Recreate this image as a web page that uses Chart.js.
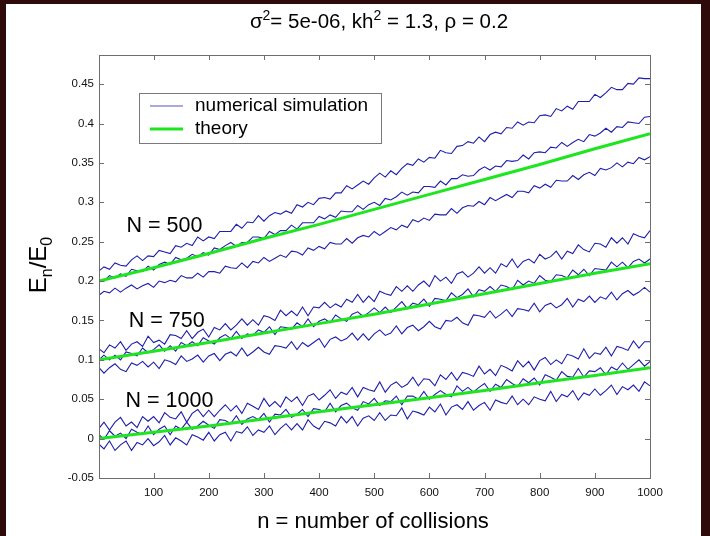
<!DOCTYPE html>
<html>
<head>
<meta charset="utf-8">
<script src="https://cdn.jsdelivr.net/npm/chart.js@4.4.1/dist/chart.umd.min.js"></script>
<style>
  html, body { margin: 0; padding: 0; background: #2e0a0a; }
  canvas { display: block; }
</style>
</head>
<body>
<canvas id="c" width="710" height="536"></canvas>
<script>
// ---------- data ----------
const collisions = [
  1,10,20,30,40,50,60,70,80,90,
  100,110,120,130,140,150,160,170,180,190,
  200,210,220,230,240,250,260,270,280,290,
  300,310,320,330,340,350,360,370,380,390,
  400,410,420,430,440,450,460,470,480,490,
  500,510,520,530,540,550,560,570,580,590,
  600,610,620,630,640,650,660,670,680,690,
  700,710,720,730,740,750,760,770,780,790,
  800,810,820,830,840,850,860,870,880,890,
  900,910,920,930,940,950,960,970,980,990,
  1000
];
const theoryCollisions = [1,100,200,300,400,500,600,700,800,900,1000];

// N = 500
const sim500Upper = [
  .213,.218,.215,.223,.220,.219,.227,.232,.226,.232,
  .231,.239,.237,.235,.245,.243,.248,.245,.256,.251,
  .256,.254,.263,.263,.263,.272,.267,.275,.274,.283,
  .276,.283,.287,.285,.289,.286,.297,.294,.300,.297,
  .305,.306,.304,.312,.312,.321,.317,.322,.327,.323,
  .331,.337,.332,.340,.335,.343,.349,.347,.355,.351,
  .357,.356,.366,.363,.362,.371,.372,.377,.375,.383,
  .377,.386,.389,.387,.395,.394,.402,.398,.402,.401,
  .410,.411,.409,.419,.416,.422,.418,.428,.428,.428,
  .437,.433,.439,.446,.443,.443,.451,.450,.458,.457,
  .457
];
const sim500Mid = [
  .201,.200,.207,.204,.209,.206,.215,.213,.212,.219,
  .214,.221,.224,.221,.230,.227,.229,.234,.231,.236,
  .233,.242,.240,.245,.249,.244,.249,.249,.256,.256,
  .254,.263,.259,.264,.264,.271,.266,.274,.274,.274,
  .282,.279,.284,.281,.289,.288,.288,.296,.291,.297,
  .300,.296,.305,.303,.307,.313,.309,.313,.312,.320,
  .320,.319,.327,.322,.330,.330,.335,.333,.334,.341,
  .345,.341,.346,.345,.353,.352,.353,.360,.355,.363,
  .364,.363,.370,.369,.376,.371,.376,.380,.377,.386,
  .384,.388,.394,.389,.396,.395,.402,.401,.400,.408,
  .409
];
const sim500Lower = [
  .182,.187,.185,.191,.186,.191,.195,.190,.194,.197,
  .192,.200,.198,.201,.199,.207,.204,.204,.210,.205,
  .212,.212,.210,.219,.217,.216,.223,.217,.225,.223,
  .230,.225,.229,.233,.230,.238,.237,.233,.242,.239,
  .244,.241,.249,.247,.247,.254,.248,.255,.258,.256,
  .263,.258,.263,.268,.265,.271,.268,.278,.275,.280,
  .277,.285,.284,.284,.292,.286,.293,.296,.295,.301,
  .297,.306,.302,.306,.310,.306,.314,.314,.312,.321,
  .318,.323,.319,.328,.327,.327,.334,.329,.335,.338,
  .334,.343,.341,.344,.350,.345,.351,.349,.357,.354,
  .358
];
const theory500 = [.200,.217,.235,.254,.272,.291,.310,.329,.348,.368,.387];

// N = 750
const sim750Upper = [
  .114,.109,.119,.115,.123,.112,.120,.123,.117,.130,
  .122,.125,.120,.132,.131,.127,.137,.127,.135,.139,
  .129,.141,.138,.146,.138,.144,.152,.144,.151,.144,
  .156,.154,.150,.163,.156,.162,.156,.167,.156,.167,
  .166,.173,.166,.171,.167,.177,.173,.183,.173,.181,
  .174,.187,.184,.182,.193,.187,.194,.187,.195,.200,
  .193,.207,.200,.205,.197,.209,.212,.205,.210,.218,
  .210,.217,.210,.222,.218,.228,.217,.225,.228,.223,
  .234,.228,.231,.238,.228,.238,.235,.246,.240,.237,
  .248,.247,.243,.255,.248,.255,.247,.260,.257,.255,
  .264
];
const sim750Mid = [
  .100,.106,.100,.106,.100,.110,.108,.105,.115,.109,
  .113,.119,.111,.118,.111,.122,.118,.123,.118,.128,
  .124,.120,.128,.132,.127,.136,.127,.133,.131,.138,
  .135,.142,.132,.142,.141,.139,.147,.142,.152,.142,
  .149,.152,.147,.157,.152,.149,.158,.161,.155,.160,
  .166,.160,.167,.160,.167,.174,.165,.172,.170,.177,
  .168,.178,.177,.175,.185,.179,.183,.190,.180,.189,
  .187,.193,.187,.195,.193,.189,.201,.195,.200,.197,
  .207,.201,.199,.208,.207,.204,.214,.208,.215,.207,
  .216,.215,.214,.224,.218,.224,.217,.225,.228,.223,
  .228
];
const sim750Lower = [
  .090,.083,.090,.095,.088,.085,.096,.093,.098,.091,
  .097,.089,.100,.098,.094,.105,.098,.101,.106,.097,
  .105,.108,.099,.107,.110,.105,.115,.105,.110,.116,
  .110,.107,.118,.117,.115,.123,.113,.122,.117,.122,
  .127,.116,.126,.129,.124,.127,.134,.125,.133,.125,
  .133,.138,.131,.134,.143,.133,.141,.144,.137,.142,
  .149,.142,.139,.150,.149,.154,.147,.144,.157,.156,
  .154,.162,.153,.158,.164,.155,.165,.164,.162,.172,
  .161,.169,.172,.166,.170,.178,.167,.177,.174,.181,
  .173,.180,.177,.186,.176,.184,.188,.182,.186,.192,
  .186
];
const theory750 = [.100,.111,.122,.134,.146,.158,.171,.184,.197,.210,.222];

// N = 1000
const sim1000Upper = [
  .013,.021,.011,.021,.027,.016,.021,.014,.028,.022,
  .028,.020,.033,.027,.025,.034,.021,.032,.037,.028,
  .036,.028,.036,.043,.035,.042,.032,.045,.041,.037,
  .051,.041,.047,.040,.053,.047,.053,.042,.054,.057,
  .049,.055,.062,.051,.059,.056,.065,.053,.065,.062,
  .060,.072,.059,.068,.072,.065,.069,.078,.067,.076,
  .075,.067,.081,.075,.084,.074,.084,.082,.079,.092,
  .082,.088,.080,.093,.090,.086,.099,.091,.098,.087,
  .099,.103,.094,.100,.095,.107,.105,.101,.114,.102,
  .109,.107,.116,.105,.117,.115,.112,.124,.115,.123,
  .123
];
const sim1000Mid = [
  .005,-.001,.010,.003,.007,.000,.012,.008,.005,.016,
  .005,.012,.016,.005,.016,.012,.021,.012,.016,.022,
  .017,.013,.024,.023,.019,.029,.018,.025,.028,.024,
  .032,.021,.031,.030,.037,.027,.031,.037,.028,.038,
  .037,.034,.045,.034,.042,.045,.039,.036,.047,.044,
  .051,.042,.048,.047,.054,.043,.054,.054,.050,.060,
  .050,.056,.061,.056,.053,.067,.060,.065,.059,.065,
  .070,.060,.069,.065,.075,.070,.066,.076,.071,.077,
  .068,.081,.078,.074,.085,.079,.078,.089,.078,.086,
  .085,.090,.081,.091,.087,.096,.088,.094,.100,.092,
  .098
];
const sim1000Lower = [
  -.007,-.013,-.003,-.015,-.008,-.003,-.015,-.005,-.008,.000,
  -.009,-.004,.004,-.008,.001,-.003,-.008,.005,.002,-.002,
  .008,-.003,.005,.008,-.003,.009,.007,.015,.004,.011,
  .008,.016,.005,.013,.019,.011,.019,.011,.024,.016,
  .012,.022,.020,.016,.028,.020,.028,.016,.026,.029,
  .023,.033,.023,.030,.029,.039,.025,.035,.033,.030,
  .040,.034,.044,.030,.040,.043,.037,.047,.036,.042,
  .046,.036,.049,.046,.044,.054,.043,.050,.043,.053,
  .050,.048,.060,.047,.056,.053,.061,.049,.058,.055,
  .063,.055,.061,.068,.056,.066,.062,.068,.060,.072,
  .067
];
const theory1000 = [.000,.008,.016,.025,.034,.043,.052,.061,.071,.080,.090];

// axis ticks
const xTickValues = [100,200,300,400,500,600,700,800,900,1000];
const yTickValues = [-0.05,0,0.05,0.1,0.15,0.2,0.25,0.3,0.35,0.4,0.45];

const groupLabels = ['N = 500', 'N = 750', 'N = 1000'];
const legendLabels = ['numerical simulation', 'theory'];

// ---------- chart ----------
const FONT = '"Liberation Sans", Arial, Helvetica, sans-serif';
const SIM_COLOR = '#1e1eac';
const THEORY_COLOR = '#1ee61e';

function pts(xs, ys) { return ys.map((y, i) => ({ x: xs[i], y })); }
function simSet(ys) {
  return { data: pts(collisions, ys), borderColor: SIM_COLOR, borderWidth: 1.1, order: 1 };
}
function theorySet(ys) {
  return { data: pts(theoryCollisions, ys), borderColor: THEORY_COLOR, borderWidth: 3, order: 0 };
}

const datasets = [
  simSet(sim500Upper), simSet(sim500Mid), simSet(sim500Lower), theorySet(theory500),
  simSet(sim750Upper), simSet(sim750Mid), simSet(sim750Lower), theorySet(theory750),
  simSet(sim1000Upper), simSet(sim1000Mid), simSet(sim1000Lower), theorySet(theory1000)
];

function drawRich(ctx, segs, x, y, align) {
  let total = 0;
  segs.forEach(s => { ctx.font = s.size + 'px ' + FONT; total += ctx.measureText(s.t).width; });
  let cx = align === 'center' ? x - total / 2 : x;
  ctx.textAlign = 'left';
  ctx.textBaseline = 'alphabetic';
  segs.forEach(s => {
    ctx.font = s.size + 'px ' + FONT;
    ctx.fillText(s.t, cx, y + (s.dy || 0));
    cx += ctx.measureText(s.t).width;
  });
}

const deco = {
  id: 'deco',
  beforeDraw(chart) {
    const c = chart.ctx;
    c.save();
    c.fillStyle = '#2e0a0a';
    c.fillRect(0, 0, chart.width, chart.height);
    c.fillStyle = '#ffffff';
    c.fillRect(6, 4, 695, 532);
    c.restore();
  },
  afterDraw(chart) {
    const c = chart.ctx;
    const a = chart.chartArea;
    const xs = chart.scales.x, ys = chart.scales.y;
    c.save();
    // box
    c.strokeStyle = '#6e6e6e';
    c.lineWidth = 1;
    c.strokeRect(Math.round(a.left) + 0.5, Math.round(a.top) + 0.5,
                 Math.round(a.right - a.left), Math.round(a.bottom - a.top));
    // inward ticks on all sides
    c.beginPath();
    xTickValues.forEach(v => {
      const px = Math.round(xs.getPixelForValue(v)) + 0.5;
      c.moveTo(px, a.bottom); c.lineTo(px, a.bottom - 5);
      c.moveTo(px, a.top); c.lineTo(px, a.top + 5);
    });
    yTickValues.forEach(v => {
      const py = Math.round(ys.getPixelForValue(v)) + 0.5;
      c.moveTo(a.left, py); c.lineTo(a.left + 5, py);
      c.moveTo(a.right, py); c.lineTo(a.right - 5, py);
    });
    c.stroke();

    c.fillStyle = '#000';
    // title
    drawRich(c, [
      { t: 'σ', size: 20.5 }, { t: '2', size: 14, dy: -8 },
      { t: '= 5e-06, kh', size: 20.5 }, { t: '2', size: 14, dy: -8 },
      { t: ' = 1.3, ρ = 0.2', size: 20.5 }
    ], 379, 28, 'center');

    // x axis title
    c.font = '22px ' + FONT;
    c.textAlign = 'center';
    c.textBaseline = 'alphabetic';
    c.fillText('n = number of collisions', 373, 528);

    // y axis title (rotated)
    c.save();
    c.translate(46, 265);
    c.rotate(-Math.PI / 2);
    drawRich(c, [
      { t: 'E', size: 24 }, { t: 'n', size: 16, dy: 6 },
      { t: '/E', size: 24 }, { t: '0', size: 16, dy: 6 }
    ], 0, 0, 'center');
    c.restore();

    // group labels
    c.font = '21.5px ' + FONT;
    c.textAlign = 'left';
    c.fillText(groupLabels[0], xs.getPixelForValue(51), ys.getPixelForValue(0.2623));
    c.fillText(groupLabels[1], xs.getPixelForValue(55), ys.getPixelForValue(0.1417));
    c.fillText(groupLabels[2], xs.getPixelForValue(49), ys.getPixelForValue(0.0401));

    // legend
    c.fillStyle = '#ffffff';
    c.fillRect(139.5, 93.5, 242, 50);
    c.strokeStyle = '#7a7a7a';
    c.lineWidth = 1;
    c.strokeRect(139.5, 93.5, 242, 50);
    c.strokeStyle = '#8c8cd2';
    c.lineWidth = 1.3;
    c.beginPath(); c.moveTo(150, 106); c.lineTo(183, 106); c.stroke();
    c.strokeStyle = THEORY_COLOR;
    c.lineWidth = 3;
    c.beginPath(); c.moveTo(150, 129); c.lineTo(183, 129); c.stroke();
    c.fillStyle = '#000';
    c.font = '19px ' + FONT;
    c.textBaseline = 'middle';
    c.fillText(legendLabels[0], 195, 106);
    c.fillText(legendLabels[1], 195, 129);
    c.restore();
  }
};

new Chart(document.getElementById('c'), {
  type: 'line',
  data: { datasets },
  options: {
    responsive: false,
    animation: false,
    devicePixelRatio: 1,
    layout: { padding: { top: 55, right: 60, left: 0, bottom: 0 } },
    elements: { point: { radius: 0 }, line: { tension: 0, fill: false } },
    plugins: { legend: { display: false }, title: { display: false }, tooltip: { enabled: false } },
    scales: {
      x: {
        type: 'linear', min: 1, max: 1000,
        afterBuildTicks: s => { s.ticks = xTickValues.map(v => ({ value: v })); },
        afterFit: s => { s.height = 58; },
        grid: { display: false, drawTicks: false, tickLength: 0 }, border: { display: false },
        ticks: { padding: 8, color: '#111', maxRotation: 0, autoSkip: false,
                 font: { size: 11.5, family: FONT }, callback: v => String(v) }
      },
      y: {
        type: 'linear', min: -0.05, max: 0.487,
        afterBuildTicks: s => { s.ticks = yTickValues.map(v => ({ value: v })); },
        afterFit: s => { s.width = 99; },
        grid: { display: false, drawTicks: false, tickLength: 0 }, border: { display: false },
        ticks: { padding: 5, color: '#111', autoSkip: false,
                 font: { size: 11.5, family: FONT }, callback: v => String(v) }
      }
    }
  },
  plugins: [deco]
});
</script>
</body>
</html>
